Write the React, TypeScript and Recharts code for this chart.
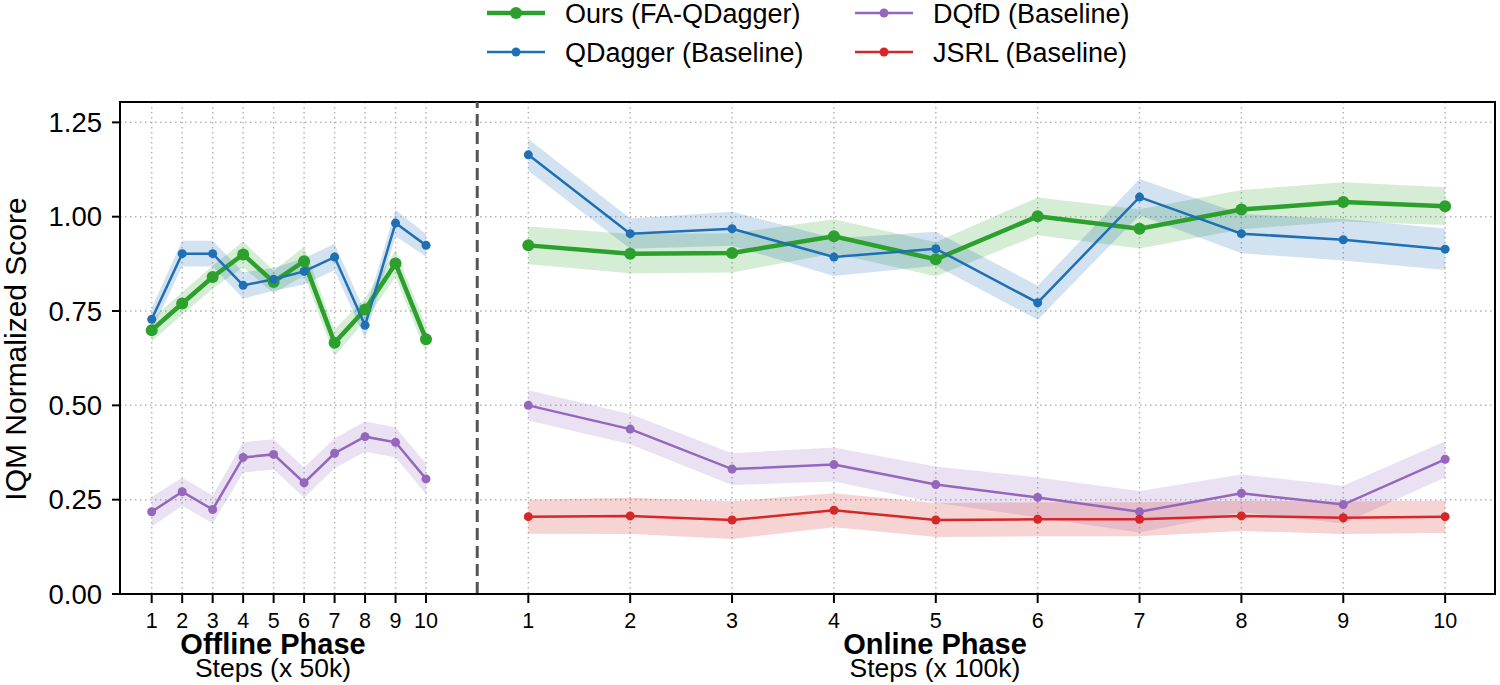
import React from "react";
import {
  ComposedChart,
  Line,
  Area,
  XAxis,
  YAxis,
  CartesianGrid,
  ReferenceLine,
  ReferenceArea,
} from "recharts";

// steps on each side of the divider
const OFFLINE_STEPS = [1, 2, 3, 4, 5, 6, 7, 8, 9, 10];
const ONLINE_STEPS = [1, 2, 3, 4, 5, 6, 7, 8, 9, 10];
const Y_TICKS = [0, 0.25, 0.5, 0.75, 1.0, 1.25];

// IQM normalized score (mean) and half width of the shaded band
const oursOffline = [0.699, 0.77, 0.84, 0.9, 0.827, 0.882, 0.666, 0.754, 0.876, 0.675];
const oursOfflineErr = [0.03, 0.03, 0.03, 0.034, 0.03, 0.038, 0.035, 0.03, 0.035, 0.036];
const qdaggerOffline = [0.728, 0.902, 0.902, 0.818, 0.834, 0.855, 0.893, 0.712, 0.983, 0.924];
const qdaggerOfflineErr = [0.03, 0.034, 0.034, 0.035, 0.03, 0.035, 0.035, 0.035, 0.035, 0.03];
const dqfdOffline = [0.218, 0.271, 0.224, 0.362, 0.37, 0.295, 0.373, 0.417, 0.402, 0.305];
const dqfdOfflineErr = [0.04, 0.037, 0.037, 0.04, 0.04, 0.04, 0.04, 0.04, 0.04, 0.04];

const oursOnline = [0.924, 0.902, 0.904, 0.948, 0.887, 1.001, 0.968, 1.019, 1.039, 1.028];
const oursOnlineErr = [0.05, 0.052, 0.052, 0.045, 0.045, 0.05, 0.052, 0.052, 0.052, 0.05];
const qdaggerOnline = [1.164, 0.955, 0.968, 0.893, 0.915, 0.772, 1.052, 0.955, 0.939, 0.914];
const qdaggerOnlineErr = [0.042, 0.04, 0.045, 0.05, 0.045, 0.045, 0.048, 0.052, 0.055, 0.055];
const dqfdOnline = [0.5, 0.437, 0.331, 0.343, 0.29, 0.256, 0.218, 0.267, 0.237, 0.357];
const dqfdOnlineErr = [0.04, 0.04, 0.042, 0.045, 0.048, 0.053, 0.055, 0.05, 0.05, 0.048];
const jsrlOnline = [0.205, 0.207, 0.196, 0.222, 0.196, 0.198, 0.198, 0.207, 0.202, 0.205];
const jsrlOnlineErr = [0.045, 0.048, 0.05, 0.045, 0.045, 0.045, 0.045, 0.04, 0.043, 0.043];

const GREEN = "#2ca02c";
const BLUE = "#1f6fb4";
const PURPLE = "#9467bd";
const RED = "#d62728";

// x layout, in units of one offline step
const X_MIN = -0.04;
const X_MAX = 45.07;
const DIVIDER = 11.68;
const ONLINE_START = 13.356;
const ONLINE_GAP = 3.342;
const Y_MAX = 1.304;

const band = (v: number, e: number) => [v - e, v + e];

const offlineRows = OFFLINE_STEPS.map((s, i) => ({
  pos: s,
  label: String(s),
  ours: oursOffline[i],
  oursBand: band(oursOffline[i], oursOfflineErr[i]),
  qdagger: qdaggerOffline[i],
  qdaggerBand: band(qdaggerOffline[i], qdaggerOfflineErr[i]),
  dqfd: dqfdOffline[i],
  dqfdBand: band(dqfdOffline[i], dqfdOfflineErr[i]),
  jsrl: null,
  jsrlBand: null,
}));

const gapRow = {
  pos: DIVIDER,
  label: "",
  ours: null,
  oursBand: null,
  qdagger: null,
  qdaggerBand: null,
  dqfd: null,
  dqfdBand: null,
  jsrl: null,
  jsrlBand: null,
};

const onlineRows = ONLINE_STEPS.map((s, i) => ({
  pos: ONLINE_START + (s - 1) * ONLINE_GAP,
  label: String(s),
  ours: oursOnline[i],
  oursBand: band(oursOnline[i], oursOnlineErr[i]),
  qdagger: qdaggerOnline[i],
  qdaggerBand: band(qdaggerOnline[i], qdaggerOnlineErr[i]),
  dqfd: dqfdOnline[i],
  dqfdBand: band(dqfdOnline[i], dqfdOnlineErr[i]),
  jsrl: jsrlOnline[i],
  jsrlBand: band(jsrlOnline[i], jsrlOnlineErr[i]),
}));

const rows = [...offlineRows, gapRow, ...onlineRows];
const xTicks = rows.filter((r) => r.label).map((r) => r.pos);

const tickLabel = (v: number) => {
  const r = rows.find((row) => row.label && Math.abs(row.pos - v) < 1e-6);
  return r ? r.label : "";
};

const FONT = "'Liberation Sans', Arial, sans-serif";

const series = [
  { key: "ours", color: GREEN, width: 4.5, r: 6, name: "Ours (FA-QDagger)" },
  { key: "qdagger", color: BLUE, width: 2.5, r: 4.5, name: "QDagger (Baseline)" },
  { key: "dqfd", color: PURPLE, width: 2.5, r: 4.5, name: "DQfD (Baseline)" },
  { key: "jsrl", color: RED, width: 2.5, r: 4.5, name: "JSRL (Baseline)" },
];

const legendSlots = [
  { x: 487, y: 13 },
  { x: 487, y: 52 },
  { x: 855, y: 13 },
  { x: 855, y: 52 },
];

function Overlay() {
  return (
    <svg
      width={1500}
      height={685}
      style={{ position: "absolute", left: 0, top: 0, pointerEvents: "none" }}
      fontFamily={FONT}
    >
      {series.map((s, i) => {
        const slot = legendSlots[i];
        return (
          <g key={s.key}>
            <line x1={slot.x} x2={slot.x + 58} y1={slot.y} y2={slot.y} stroke={s.color} strokeWidth={s.width} />
            <circle cx={slot.x + 29} cy={slot.y} r={s.r} fill={s.color} />
            <text x={slot.x + 78} y={slot.y + 10} fontSize={27} fill="#000">
              {s.name}
            </text>
          </g>
        );
      })}
      <text transform="translate(26,349) rotate(-90)" textAnchor="middle" fontSize={30} fill="#000">
        IQM Normalized Score
      </text>
      <text x={273} y={654} textAnchor="middle" fontSize={29} fontWeight="bold" fill="#000">
        Offline Phase
      </text>
      <text x={273} y={677} textAnchor="middle" fontSize={26.5} fill="#000">
        Steps (x 50k)
      </text>
      <text x={935} y={654} textAnchor="middle" fontSize={29} fontWeight="bold" fill="#000">
        Online Phase
      </text>
      <text x={935} y={677} textAnchor="middle" fontSize={26.5} fill="#000">
        Steps (x 100k)
      </text>
    </svg>
  );
}

export default function App() {
  return (
    <div
      style={{
        position: "absolute",
        left: 0,
        top: 0,
        width: 1500,
        height: 685,
        background: "#fff",
        fontFamily: FONT,
      }}
    >
      <ComposedChart
        width={1500}
        height={685}
        data={rows}
        margin={{ top: 102, right: 5, bottom: 61, left: 60 }}
      >
        <CartesianGrid stroke="#b5b5b5" strokeWidth={1.5} strokeDasharray="1.5 3.5" />
        <XAxis
          dataKey="pos"
          type="number"
          domain={[X_MIN, X_MAX]}
          ticks={xTicks}
          tickFormatter={tickLabel}
          interval={0}
          allowDataOverflow
          height={30}
          tickSize={9}
          tickMargin={10}
          axisLine={{ stroke: "#000", strokeWidth: 2 }}
          tickLine={{ stroke: "#000", strokeWidth: 2 }}
          tick={{ fill: "#000", fontSize: 21.5 }}
        />
        <YAxis
          type="number"
          domain={[0, Y_MAX]}
          ticks={Y_TICKS}
          tickFormatter={(v: number) => v.toFixed(2)}
          allowDataOverflow
          width={60}
          tickSize={8}
          tickMargin={10}
          axisLine={{ stroke: "#000", strokeWidth: 2 }}
          tickLine={{ stroke: "#000", strokeWidth: 2 }}
          tick={{ fill: "#000", fontSize: 27.5 }}
        />
        <ReferenceLine x={DIVIDER} stroke="#555" strokeWidth={3} strokeDasharray="12 6" />
        {series.map((s) => [
          <Area
            key={s.key + "Band"}
            dataKey={s.key + "Band"}
            type="linear"
            stroke="none"
            fill={s.color}
            fillOpacity={0.2}
            dot={false}
            activeDot={false}
            connectNulls={false}
            isAnimationActive={false}
          />,
          <Line
            key={s.key}
            dataKey={s.key}
            type="linear"
            stroke={s.color}
            strokeWidth={s.width}
            dot={{ r: s.r, fill: s.color, stroke: s.color, strokeWidth: 0 }}
            activeDot={false}
            connectNulls={false}
            isAnimationActive={false}
          />,
        ])}
        <ReferenceArea
          x1={X_MIN}
          x2={X_MAX}
          y1={0}
          y2={Y_MAX}
          fill="none"
          stroke="#000"
          strokeWidth={2}
          ifOverflow="visible"
        />
      </ComposedChart>
      <Overlay />
    </div>
  );
}
